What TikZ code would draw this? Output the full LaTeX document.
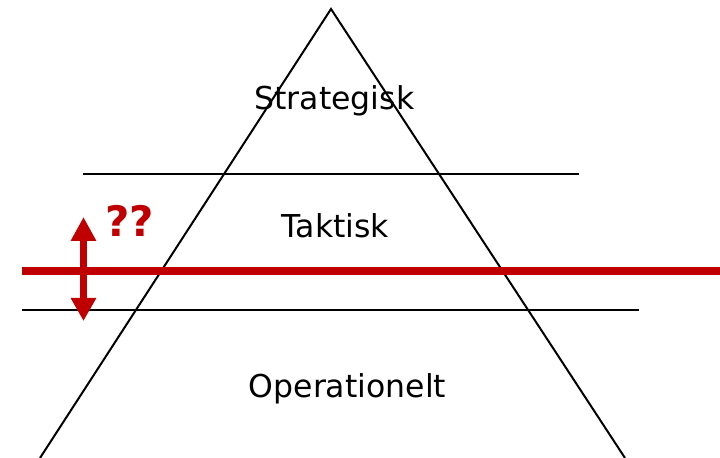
\documentclass[tikz,border=0pt]{standalone}
\usepackage{fontspec}
\setmainfont{DejaVu Sans}
\usetikzlibrary{arrows.meta}
\definecolor{darkred}{HTML}{C00000}
\tikzset{
  lbl/.style={anchor=base, inner sep=0pt, font=\fontsize{31.5bp}{36bp}\selectfont},
  blk/.style={line width=2bp, black},
  redline/.style={line width=8bp, darkred},
}
\begin{document}
\begin{tikzpicture}[x=1bp,y=-1bp]
\useasboundingbox (0,0) rectangle (720,458);
% pyramid
\coordinate (apex) at (331,9);
\coordinate (bl) at (40,458);
\coordinate (br) at (625,458);
\draw[blk] (bl) -- (apex) -- (br);
% level lines
\coordinate (l1a) at (83,174);
\coordinate (l1b) at (579,174);
\draw[blk] (l1a) -- (l1b);
\coordinate (l2a) at (22,310);
\coordinate (l2b) at (639,310);
\draw[blk] (l2a) -- (l2b);
% red line
\coordinate (ra) at (22,271);
\coordinate (rb) at (720,271);
\draw[redline] (ra) -- (rb);
% red double arrow
\coordinate (at) at (83.5,217);
\coordinate (ab) at (83.5,321);
\draw[line width=7bp, darkred, {Triangle[length=24bp,width=24bp]}-{Triangle[length=23bp,width=24bp]}] (at) -- (ab);
% labels
\node[lbl] (s) at (334.5,110) {Strategisk};
\node[lbl] (t) at (335.5,238) {Taktisk};
\node[lbl] (o) at (347.5,397) {Operationelt};
\node[anchor=base west, inner sep=0pt, text=darkred, font=\fontsize{42bp}{48bp}\selectfont\bfseries] (q) at (105,237) {??};
\end{tikzpicture}
\end{document}
